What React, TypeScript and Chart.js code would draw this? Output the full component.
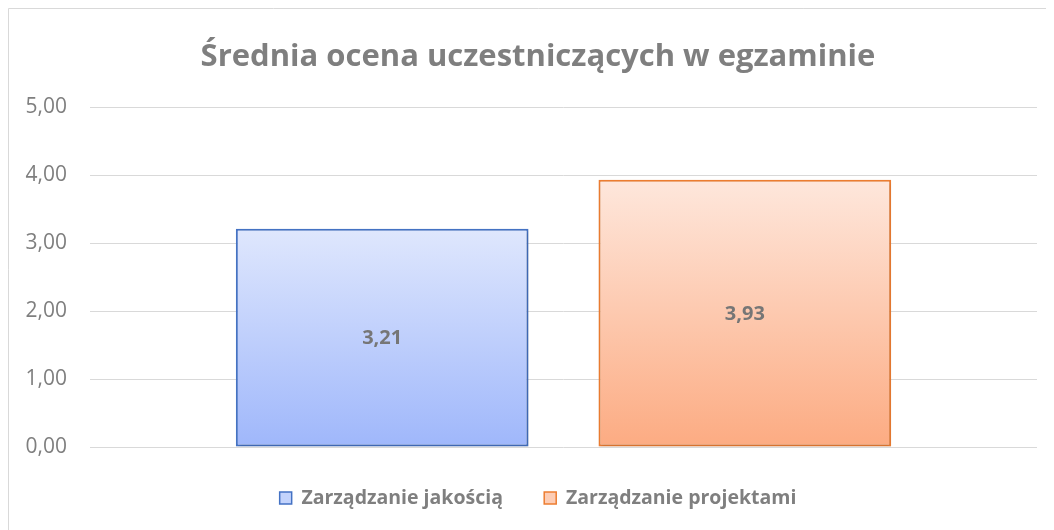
import React, { useEffect, useRef } from "react";
import { Chart, registerables } from "chart.js";

Chart.register(...registerables);

const chartTitle = "Średnia ocena uczestniczących w egzaminie";
const categories = ["Ocena"];
const seriesNames = ["Zarządzanie jakością", "Zarządzanie projektami"];
const seriesQuality = [3.21];
const seriesProjects = [3.93];
const yTicks = [0, 1, 2, 3, 4, 5];

const FONT = "'Open Sans', 'Noto Sans', sans-serif";
const GRAY = "#7f7f7f";

const fmt = (v: number) => v.toFixed(2).replace(".", ",");

function gradientFor(top: string, bottom: string) {
  return (ctx: any) => {
    const chart = ctx.chart;
    const y = chart.scales?.y;
    if (!y || ctx.raw === undefined) return bottom;
    const yTop = y.getPixelForValue(ctx.raw);
    const yBase = y.getPixelForValue(0);
    if (!isFinite(yTop) || !isFinite(yBase) || yTop === yBase) return bottom;
    const g = chart.ctx.createLinearGradient(0, yTop, 0, yBase);
    g.addColorStop(0, top);
    g.addColorStop(1, bottom);
    return g;
  };
}

const frameAndLabels = {
  id: "frameAndLabels",
  beforeDraw(chart: any) {
    const c = chart.ctx;
    c.save();
    c.fillStyle = "#ffffff";
    c.fillRect(0, 0, chart.width, chart.height);
    c.strokeStyle = "#d9d9d9";
    c.lineWidth = 1;
    c.beginPath();
    c.moveTo(0.5, chart.height);
    c.lineTo(0.5, 0.5);
    c.lineTo(chart.width, 0.5);
    c.stroke();
    c.restore();
  },
  beforeDatasetDraw(chart: any) {
    const c = chart.ctx;
    c.save();
    c.shadowColor = "rgba(0,0,0,0.18)";
    c.shadowBlur = 3;
    c.shadowOffsetX = 1;
    c.shadowOffsetY = 1;
  },
  afterDatasetDraw(chart: any) {
    chart.ctx.restore();
  },
  afterDatasetsDraw(chart: any) {
    const c = chart.ctx;
    c.save();
    c.font = `bold 20px ${FONT}`;
    c.fillStyle = "#767676";
    c.textAlign = "center";
    c.textBaseline = "middle";
    chart.data.datasets.forEach((ds: any, di: number) => {
      const meta = chart.getDatasetMeta(di);
      meta.data.forEach((el: any, i: number) => {
        const v = ds.data[i];
        c.fillText(fmt(v), el.x, (el.y + el.base) / 2 + 1);
      });
    });
    c.restore();
  },
};

export default function App() {
  const ref = useRef<HTMLCanvasElement | null>(null);

  useEffect(() => {
    document.documentElement.style.overflow = "hidden";
    document.body.style.overflow = "hidden";
    const canvas = ref.current;
    if (!canvas) return;
    const chart = new Chart(canvas, {
      type: "bar",
      data: {
        labels: categories,
        datasets: [
          {
            label: seriesNames[0],
            data: seriesQuality,
            backgroundColor: gradientFor("#dfe7fd", "#9fb7fb"),
            borderColor: "#4472c4",
            borderWidth: 2,
            borderSkipped: false,
            categoryPercentage: 0.7659,
            barPercentage: 0.807,
          },
          {
            label: seriesNames[1],
            data: seriesProjects,
            backgroundColor: gradientFor("#fee7dc", "#fcab82"),
            borderColor: "#ed7d31",
            borderWidth: 2,
            borderSkipped: false,
            categoryPercentage: 0.7659,
            barPercentage: 0.807,
          },
        ],
      },
      options: {
        responsive: false,
        animation: false,
        layout: { padding: { top: 0, left: 0, right: 0, bottom: 12.25 } },
        scales: {
          x: { display: false },
          y: {
            min: 0,
            max: 5,
            afterBuildTicks: (s: any) => {
              s.ticks = yTicks.map((v) => ({ value: v }));
            },
            afterFit: (s: any) => {
              s.width = 82;
            },
            ticks: {
              padding: 23,
              color: GRAY,
              font: { family: FONT, size: 21 },
              callback: (v: any) => fmt(Number(v)),
            },
            grid: { color: "#d9d9d9", lineWidth: 1, drawTicks: false },
            border: { display: false },
          },
          y2: {
            position: "right",
            display: true,
            ticks: { display: false },
            grid: { display: false },
            border: { display: false },
            afterFit: (s: any) => {
              s.width = 31;
            },
          },
        },
        plugins: {
          title: {
            display: true,
            text: chartTitle,
            color: GRAY,
            font: { family: FONT, size: 31, weight: "bold", lineHeight: 1.2 },
            padding: { top: 31, bottom: 30.8 },
          },
          legend: {
            position: "bottom",
            labels: {
              boxWidth: 12,
              boxHeight: 12,
              padding: 41.25,
              color: GRAY,
              font: { family: FONT, size: 19.5, weight: "bold" },
              generateLabels: () => [
                {
                  text: seriesNames[0],
                  fillStyle: "#c3d3fc",
                  strokeStyle: "#4472c4",
                  lineWidth: 1.5,
                  datasetIndex: 0,
                  fontColor: GRAY,
                },
                {
                  text: seriesNames[1],
                  fillStyle: "#fdcdb5",
                  strokeStyle: "#ed7d31",
                  lineWidth: 1.5,
                  datasetIndex: 1,
                  fontColor: GRAY,
                },
              ],
            },
          },
          tooltip: { enabled: false },
        },
      },
      plugins: [frameAndLabels],
    });
    return () => chart.destroy();
  }, []);

  return (
    <div>
      <canvas
        ref={ref}
        width={1060}
        height={522}
        style={{ display: "block", width: "1060px", height: "522px" }}
      />
    </div>
  );
}
